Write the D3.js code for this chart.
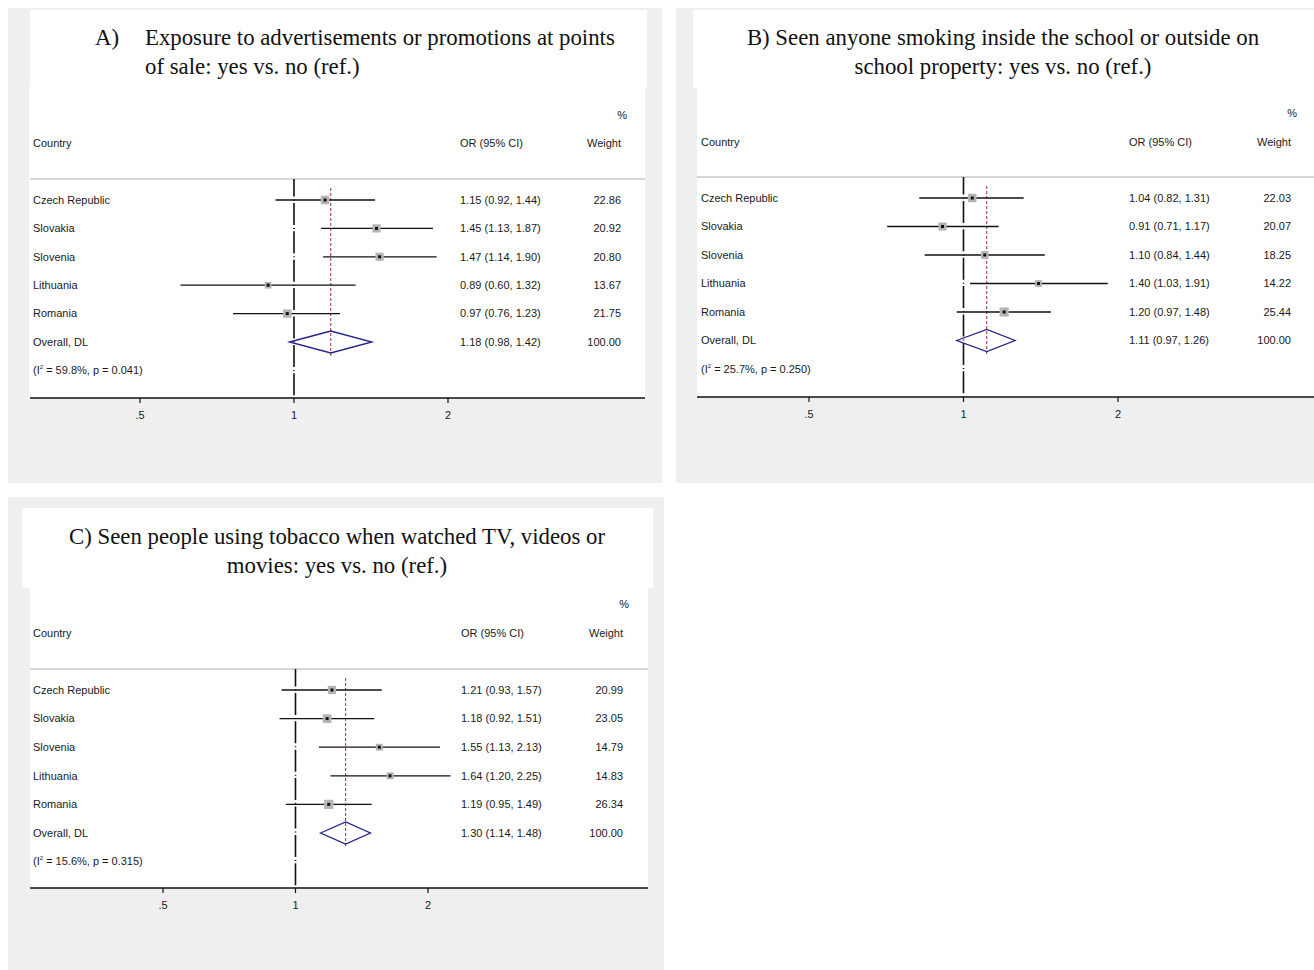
<!DOCTYPE html>
<html>
<head>
<meta charset="utf-8">
<script src="https://cdn.jsdelivr.net/npm/d3@7"></script>
<style>
  body { margin: 0; background: #ffffff; }
  svg { display: block; }
  .body-text { font-family: Arial, "Liberation Sans", sans-serif; font-size: 11px; fill: #1a1a1a; }
  .title-text { font-family: "Times New Roman", "Liberation Serif", serif; font-size: 22.8px; fill: #111; }
</style>
</head>
<body>
<svg id="fig" width="1314" height="970"></svg>
<script>
// ---- Study rows (same countries in every panel) ----
const countries = ["Czech Republic", "Slovakia", "Slovenia", "Lithuania", "Romania"];

// Panel A: exposure to point-of-sale advertising
const orA = [1.15, 1.45, 1.47, 0.89, 0.97];
const loA = [0.92, 1.13, 1.14, 0.60, 0.76];
const hiA = [1.44, 1.87, 1.90, 1.32, 1.23];
const wA  = [22.86, 20.92, 20.80, 13.67, 21.75];
const overallA = [1.18, 0.98, 1.42];
const hetA = ["59.8%", "0.041"];

// Panel B: smoking seen at school
const orB = [1.04, 0.91, 1.10, 1.40, 1.20];
const loB = [0.82, 0.71, 0.84, 1.03, 0.97];
const hiB = [1.31, 1.17, 1.44, 1.91, 1.48];
const wB  = [22.03, 20.07, 18.25, 14.22, 25.44];
const overallB = [1.11, 0.97, 1.26];
const hetB = ["25.7%", "0.250"];

// Panel C: tobacco use seen on TV, videos or movies
const orC = [1.21, 1.18, 1.55, 1.64, 1.19];
const loC = [0.93, 0.92, 1.13, 1.20, 0.95];
const hiC = [1.57, 1.51, 2.13, 2.25, 1.49];
const wC  = [20.99, 23.05, 14.79, 14.83, 26.34];
const overallC = [1.30, 1.14, 1.48];
const hetC = ["15.6%", "0.315"];

// Axis ticks
const tickValues = [0.5, 1, 2];
const tickLabels = [".5", "1", "2"];

// Titles
const labelA = "A)";
const titleA = ["Exposure to advertisements or promotions at points", "of sale: yes vs. no (ref.)"];
const titleB = ["B) Seen anyone smoking inside the school or outside on", "school property: yes vs. no (ref.)"];
const titleC = ["C) Seen people using tobacco when watched TV, videos or", "movies: yes vs. no (ref.)"];

const fmt2 = d3.format(".2f");
const svg = d3.select("#fig");

const panels = [
  {
    or: orA, lo: loA, hi: hiA, w: wA, overall: overallA, het: hetA,
    title: titleA, label: labelA,
    bg: [8, 8, 654, 475], titleBox: [30, 10, 617, 78], plotBox: [29, 86, 616, 312],
    titleMode: "hang", labelX: 95, titleX: 145, titleY: [37, 66],
    pctY: 115, hdrY: 143, sepY: 179, rowY0: 200, rowStep: 28.4, axisY: 398,
    xLeft: 30, xRight: 645, range: [140, 448],
    colCountry: 33, colOR: 460, colW: 621, pctX: 627
  },
  {
    or: orB, lo: loB, hi: hiB, w: wB, overall: overallB, het: hetB,
    title: titleB,
    bg: [676, 8, 638, 475], titleBox: [693, 10, 621, 78], plotBox: [697, 86, 617, 311],
    titleMode: "center", titleX: 1003, titleY: [37, 66],
    pctY: 113, hdrY: 142, sepY: 177, rowY0: 198, rowStep: 28.5, axisY: 397,
    xLeft: 697, xRight: 1314, range: [809, 1118],
    colCountry: 701, colOR: 1129, colW: 1291, pctX: 1297
  },
  {
    or: orC, lo: loC, hi: hiC, w: wC, overall: overallC, het: hetC,
    title: titleC,
    bg: [8, 497, 656, 473], titleBox: [22, 508, 631, 80], plotBox: [30, 586, 618, 302],
    titleMode: "center", titleX: 337, titleY: [536, 565],
    pctY: 604, hdrY: 633, sepY: 669, rowY0: 690, rowStep: 28.6, axisY: 888,
    xLeft: 30, xRight: 648, range: [163, 428],
    colCountry: 33, colOR: 461, colW: 623, pctX: 629
  }
];

// Box side grows with the square root of the study weight (area ∝ weight)
const boxSide = d3.scaleSqrt().domain([0, 25]).range([0, 9]);

panels.forEach(p => {
  const g = svg.append("g");
  const x = d3.scaleLog().base(2).domain([0.5, 2]).range(p.range);

  // Backgrounds
  g.append("rect").attr("x", p.bg[0]).attr("y", p.bg[1]).attr("width", p.bg[2]).attr("height", p.bg[3]).attr("fill", "#efefef");
  g.append("rect").attr("x", p.titleBox[0]).attr("y", p.titleBox[1]).attr("width", p.titleBox[2]).attr("height", p.titleBox[3]).attr("fill", "#ffffff");
  g.append("rect").attr("x", p.plotBox[0]).attr("y", p.plotBox[1]).attr("width", p.plotBox[2]).attr("height", p.plotBox[3]).attr("fill", "#ffffff");

  // Title
  if (p.titleMode === "hang") {
    g.append("text").attr("class", "title-text").attr("x", p.labelX).attr("y", p.titleY[0]).attr("dy", "0.35em").text(p.label);
    p.title.forEach((t, i) => {
      g.append("text").attr("class", "title-text").attr("x", p.titleX).attr("y", p.titleY[i]).attr("dy", "0.35em").text(t);
    });
  } else {
    p.title.forEach((t, i) => {
      g.append("text").attr("class", "title-text").attr("x", p.titleX).attr("y", p.titleY[i])
        .attr("dy", "0.35em").attr("text-anchor", "middle").text(t);
    });
  }

  // Column headers
  g.append("text").attr("class", "body-text").attr("x", p.pctX).attr("y", p.pctY).attr("dy", "0.35em").attr("text-anchor", "end").text("%");
  g.append("text").attr("class", "body-text").attr("x", p.colCountry).attr("y", p.hdrY).attr("dy", "0.35em").text("Country");
  g.append("text").attr("class", "body-text").attr("x", p.colOR).attr("y", p.hdrY).attr("dy", "0.35em").text("OR (95% CI)");
  g.append("text").attr("class", "body-text").attr("x", p.colW).attr("y", p.hdrY).attr("dy", "0.35em").attr("text-anchor", "end").text("Weight");

  // Header separator
  g.append("line").attr("x1", p.xLeft).attr("x2", p.xRight).attr("y1", p.sepY).attr("y2", p.sepY)
    .attr("stroke", "#c8c8c8").attr("stroke-width", 1.5);

  const rowY = i => p.rowY0 + i * p.rowStep;
  const nRows = countries.length;
  const overallY = rowY(nRows);
  const hetY = rowY(nRows + 1);

  // Null line at OR = 1
  g.append("line").attr("x1", x(1)).attr("x2", x(1)).attr("y1", p.sepY).attr("y2", p.axisY)
    .attr("stroke", "#111").attr("stroke-width", 1.6)
    .attr("stroke-dasharray", "22,3,1,2.4").attr("stroke-dashoffset", 4.5);

  // Pooled estimate reference line
  g.append("line").attr("x1", x(p.overall[0])).attr("x2", x(p.overall[0]))
    .attr("y1", p.sepY + 9).attr("y2", overallY + 14)
    .attr("stroke", "#9a2a2a").attr("stroke-width", 1).attr("stroke-dasharray", "3,2");

  // Study rows
  countries.forEach((c, i) => {
    const y = rowY(i);
    g.append("line").attr("x1", x(p.lo[i])).attr("x2", x(p.hi[i])).attr("y1", y).attr("y2", y)
      .attr("stroke", "#111").attr("stroke-width", 1.3);
    const s = boxSide(p.w[i]);
    g.append("rect").attr("x", x(p.or[i]) - s / 2).attr("y", y - s / 2).attr("width", s).attr("height", s)
      .attr("fill", "#b4b4b4");
    g.append("rect").attr("x", x(p.or[i]) - 1.5).attr("y", y - 1.5).attr("width", 3).attr("height", 3).attr("fill", "#111");

    g.append("text").attr("class", "body-text").attr("x", p.colCountry).attr("y", y).attr("dy", "0.35em").text(c);
    g.append("text").attr("class", "body-text").attr("x", p.colOR).attr("y", y).attr("dy", "0.35em")
      .text(`${fmt2(p.or[i])} (${fmt2(p.lo[i])}, ${fmt2(p.hi[i])})`);
    g.append("text").attr("class", "body-text").attr("x", p.colW).attr("y", y).attr("dy", "0.35em").attr("text-anchor", "end")
      .text(fmt2(p.w[i]));
  });

  // Overall (DerSimonian-Laird) diamond
  const [est, lo, hi] = p.overall;
  const dh = 11;
  g.append("path")
    .attr("d", `M${x(lo)},${overallY} L${x(est)},${overallY - dh} L${x(hi)},${overallY} L${x(est)},${overallY + dh} Z`)
    .attr("fill", "none").attr("stroke", "#22228a").attr("stroke-width", 1.3);
  g.append("text").attr("class", "body-text").attr("x", p.colCountry).attr("y", overallY).attr("dy", "0.35em").text("Overall, DL");
  g.append("text").attr("class", "body-text").attr("x", p.colOR).attr("y", overallY).attr("dy", "0.35em")
    .text(`${fmt2(est)} (${fmt2(lo)}, ${fmt2(hi)})`);
  g.append("text").attr("class", "body-text").attr("x", p.colW).attr("y", overallY).attr("dy", "0.35em").attr("text-anchor", "end")
    .text(fmt2(100));

  // Heterogeneity
  const het = g.append("text").attr("class", "body-text").attr("x", p.colCountry).attr("y", hetY).attr("dy", "0.35em");
  het.append("tspan").text("(I");
  het.append("tspan").attr("font-size", "6px").attr("dy", "-5").text("2");
  het.append("tspan").attr("dy", "5").text(` = ${p.het[0]}, p = ${p.het[1]})`);

  // Bottom axis
  const axisG = g.append("g").attr("transform", `translate(0,${p.axisY})`);
  axisG.append("line").attr("x1", p.xLeft).attr("x2", p.xRight).attr("stroke", "#111").attr("stroke-width", 1.5);
  tickValues.forEach((t, i) => {
    axisG.append("line").attr("x1", x(t)).attr("x2", x(t)).attr("y1", 0).attr("y2", 5).attr("stroke", "#111").attr("stroke-width", 1.2);
    axisG.append("text").attr("class", "body-text").attr("x", x(t)).attr("y", 17).attr("dy", "0.35em")
      .attr("text-anchor", "middle").text(tickLabels[i]);
  });
});
</script>
</body>
</html>
